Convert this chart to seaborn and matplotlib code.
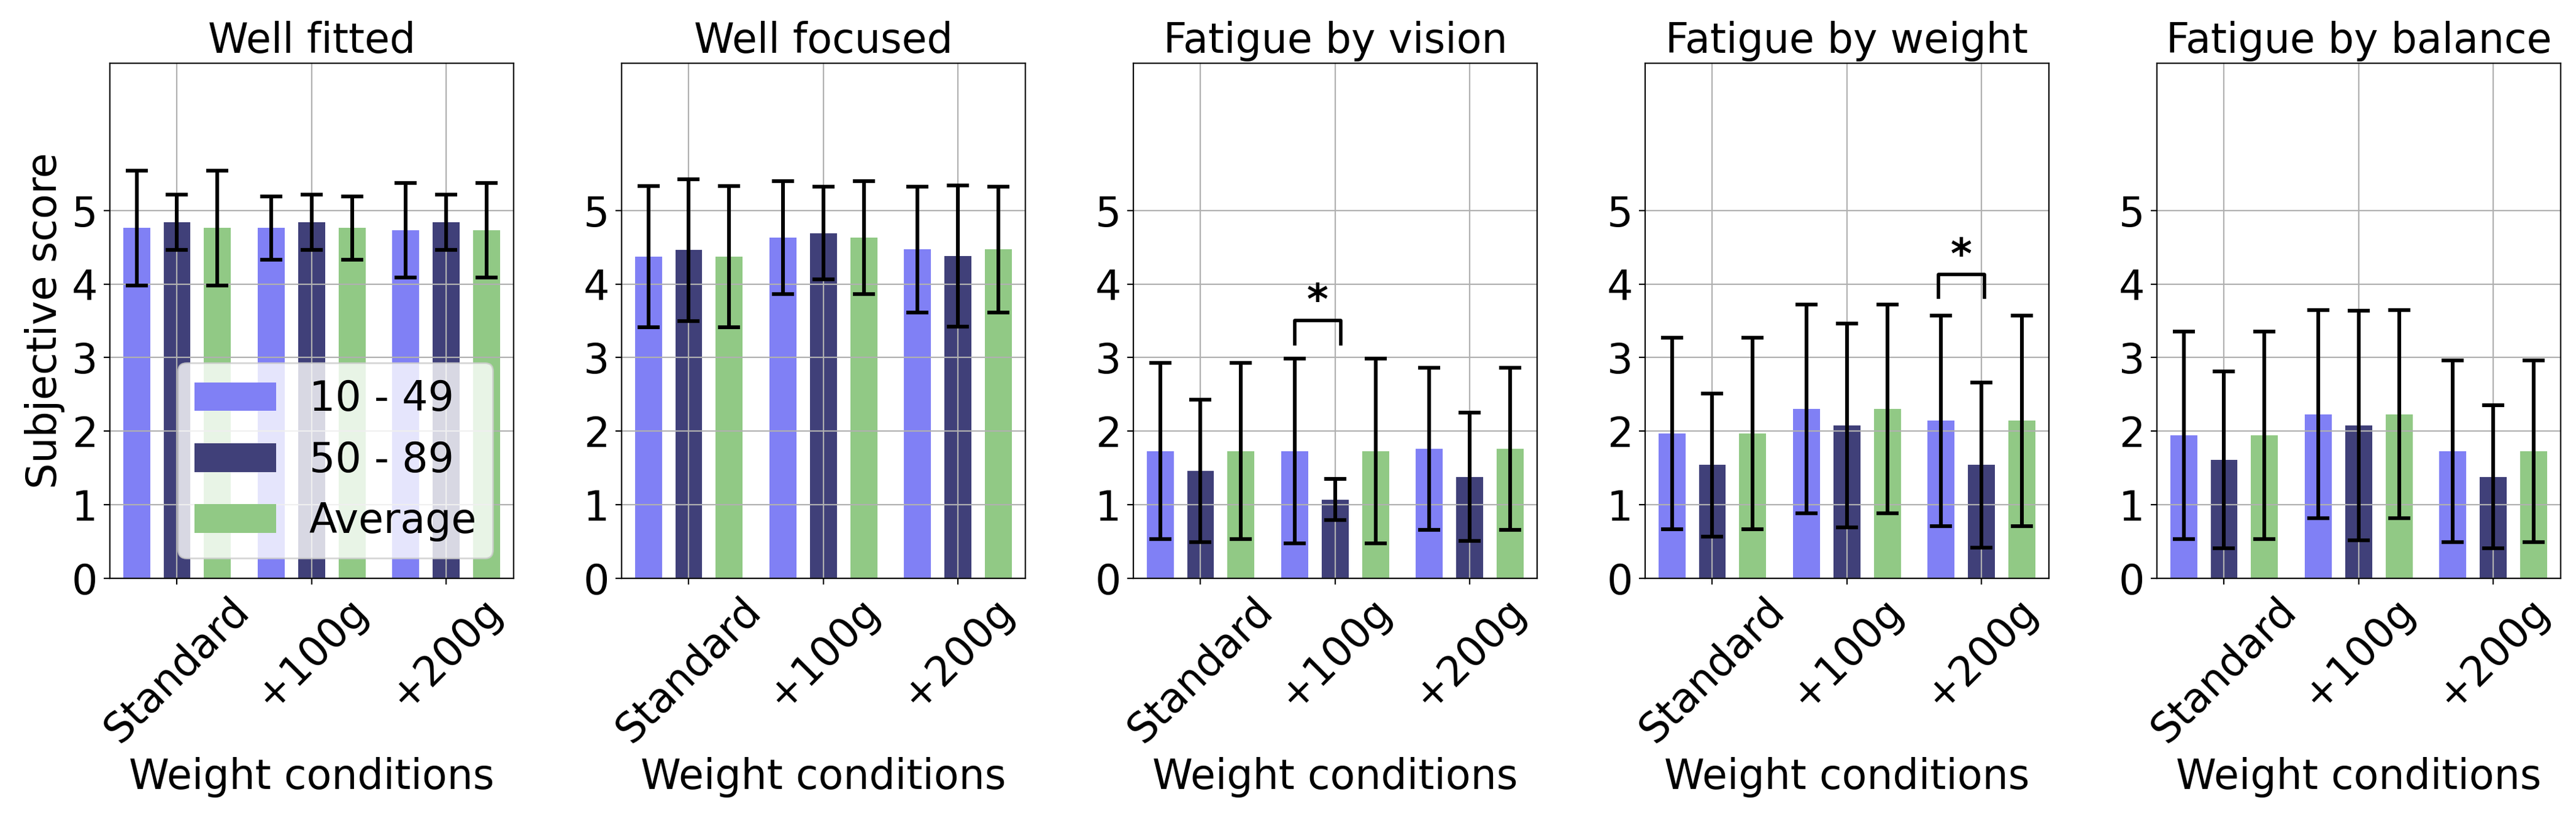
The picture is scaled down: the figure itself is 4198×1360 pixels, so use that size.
import matplotlib
matplotlib.use("Agg")
import matplotlib.pyplot as plt
from matplotlib.container import BarContainer
import seaborn as sns
import pandas as pd
import numpy as np

# ---------------- data ----------------
titles = ["Well fitted", "Well focused", "Fatigue by vision", "Fatigue by weight", "Fatigue by balance"]
conditions = ["Standard", "+100g", "+200g"]
groups = ["10 - 49", "50 - 89", "Average"]

# means [panel][condition] per group
mean_young = [[4.76, 4.76, 4.73], [4.37, 4.63, 4.47], [1.73, 1.73, 1.76], [1.97, 2.30, 2.14], [1.94, 2.23, 1.73]]
mean_old   = [[4.84, 4.84, 4.84], [4.46, 4.69, 4.38], [1.46, 1.07, 1.38], [1.54, 2.08, 1.54], [1.61, 2.08, 1.38]]
mean_avg   = [[4.76, 4.76, 4.73], [4.37, 4.63, 4.47], [1.73, 1.73, 1.76], [1.97, 2.30, 2.14], [1.94, 2.23, 1.73]]

sd_young = [[0.78, 0.43, 0.645], [0.96, 0.77, 0.855], [1.20, 1.255, 1.10], [1.30, 1.42, 1.43], [1.41, 1.415, 1.235]]
sd_old   = [[0.375, 0.375, 0.375], [0.965, 0.63, 0.96], [0.967, 0.28, 0.875], [0.97, 1.385, 1.125], [1.20, 1.56, 0.97]]
sd_avg   = [[0.78, 0.43, 0.645], [0.96, 0.77, 0.855], [1.20, 1.255, 1.10], [1.30, 1.42, 1.43], [1.41, 1.415, 1.235]]

# significance brackets
sig_panel = [2, 3]
sig_x1 = [0.70, 1.68]
sig_x2 = [1.04, 2.02]
sig_leg = [3.19, 3.82]
sig_top = [3.50, 4.13]
sig_star = [3.75, 4.37]

colors = ["#8080f5", "#404079", "#91c985"]

FS = 24

fig, axes = plt.subplots(1, 5, figsize=(20.99, 6.8), dpi=200)
fig.subplots_adjust(left=0.0426, right=0.994, bottom=0.3074, top=0.9243, wspace=0.2675)

means_all = [mean_young, mean_old, mean_avg]
sds_all = [sd_young, sd_old, sd_avg]

for i, ax in enumerate(axes):
    rows = []
    for g, gname in enumerate(groups):
        for c, cname in enumerate(conditions):
            rows.append({"cond": cname, "group": gname,
                         "mean": means_all[g][i][c], "sd": sds_all[g][i][c]})
    df = pd.DataFrame(rows)
    sns.barplot(data=df, x="cond", y="mean", hue="group", order=conditions,
                hue_order=groups, palette=colors, saturation=1, errorbar=None,
                width=0.9, gap=1/3, linewidth=0, ax=ax, legend=(i == 0))
    bar_conts = [c for c in ax.containers if isinstance(c, BarContainer)]
    for g, cont in enumerate(bar_conts):
        xs = [p.get_x() + p.get_width() / 2 for p in cont.patches]
        hs = [p.get_height() for p in cont.patches]
        ax.errorbar(xs, hs, yerr=sds_all[g][i], fmt="none", ecolor="k",
                    elinewidth=2.2, capsize=6.5, capthick=2.2, zorder=3)
    ax.set_xlim(-0.5, 2.5)
    ax.set_ylim(0, 7)
    ax.set_yticks([0, 1, 2, 3, 4, 5])
    ax.grid(True, color="#b0b0b0", linewidth=0.8)
    ax.set_title(titles[i], fontsize=FS)
    ax.set_xlabel("Weight conditions", fontsize=FS)
    ax.set_ylabel("Subjective score" if i == 0 else "", fontsize=FS)
    ax.tick_params(axis="both", labelsize=FS)
    for lab in ax.get_xticklabels():
        lab.set_rotation(45)
        lab.set_ha("center")
    for s in ax.spines.values():
        s.set_color("k")
    if i == 0:
        h, l = ax.get_legend_handles_labels()
        ax.legend(h, l, loc="lower right", fontsize=FS, title=None)

for k, p in enumerate(sig_panel):
    ax = axes[p]
    ax.plot([sig_x1[k], sig_x1[k], sig_x2[k], sig_x2[k]],
            [sig_leg[k], sig_top[k], sig_top[k], sig_leg[k]], color="k", lw=2, zorder=4)
    ax.text((sig_x1[k] + sig_x2[k]) / 2, sig_star[k], "*", ha="center", va="center",
            fontsize=FS, fontweight="bold")

fig.savefig("out.png", dpi=200)
